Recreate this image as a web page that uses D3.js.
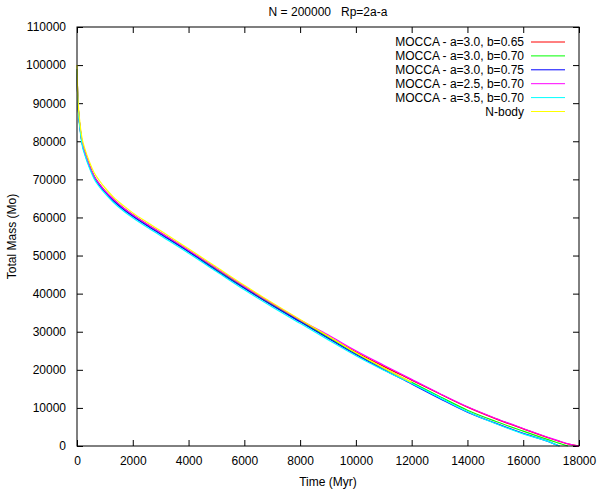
<!DOCTYPE html>
<html>
<head>
<meta charset="utf-8">
<script src="https://cdn.jsdelivr.net/npm/d3@7.9.0/dist/d3.min.js"></script>
<style>
  body { margin: 0; background: #fff; }
  svg { font-family: "Liberation Sans", Arial, sans-serif; }
</style>
</head>
<body>
<svg id="chart"></svg>
<script>
// time (Myr) shared by all series
const time = [0, 20, 50, 100, 170, 300, 450, 610, 800, 1000, 1300, 1700, 2000, 2500, 3000,
  4000, 5000, 6000, 7000, 8000, 9000, 10000, 11000, 12000, 13000, 14000, 15000, 16000,
  17000, 17300, 17600, 18000];

const moccaA30B065 = [99000, 93200, 88300, 84300, 80300, 76700, 73600, 70900, 68800, 67000, 64800, 62300, 60700, 58300, 56000,
  51300, 46500, 41800, 37300, 33000, 28800, 24700, 20900, 17300, 13700, 10200, 7200, 4500, 1900, 1200, 550, 0];
const moccaA30B070 = [99000, 93100, 88200, 84200, 80200, 76600, 73500, 70800, 68700, 66900, 64600, 62100, 60500, 58100, 55800,
  51100, 46300, 41500, 37000, 32700, 28500, 24300, 20400, 16700, 13000, 9400, 6500, 3900, 1400, 700, 0, null];
const moccaA30B075 = [99000, 93000, 88000, 84000, 80000, 76400, 73300, 70600, 68500, 66700, 64400, 61900, 60300, 57900, 55600,
  51000, 46100, 41400, 36900, 32600, 28300, 24000, 20000, 16300, 12500, 8900, 6000, 3300, 900, 0, null, null];
const moccaA25B070 = [99000, 93200, 88300, 84300, 80300, 76700, 73600, 70900, 68800, 67000, 64800, 62300, 60700, 58300, 56000,
  51400, 46600, 41900, 37400, 33100, 29200, 25000, 21200, 17500, 13800, 10300, 7300, 4600, 2000, 1300, 600, 0];
const moccaA35B070 = [99000, 92700, 87600, 83600, 79600, 76000, 72900, 70200, 68100, 66300, 64000, 61500, 59900, 57500, 55200,
  50600, 45800, 41000, 36500, 32200, 27900, 23700, 19900, 16400, 12700, 9000, 5900, 3200, 900, 0, null, null];
const nbody = [100000, 94000, 89200, 85200, 81200, 77600, 74500, 71800, 69700, 67800, 65400, 62900, 61200, 58800, 56500,
  51800, 47000, 42200, 37600, 33200, 28900, 24500, 20500, 16700, null, null, null, null, null, null, null, null];

const seriesNames = ['MOCCA - a=3.0, b=0.65', 'MOCCA - a=3.0, b=0.70', 'MOCCA - a=3.0, b=0.75',
  'MOCCA - a=2.5, b=0.70', 'MOCCA - a=3.5, b=0.70', 'N-body'];
const seriesValues = [moccaA30B065, moccaA30B070, moccaA30B075, moccaA25B070, moccaA35B070, nbody];
const seriesColors = ['#ff0000', '#00ff00', '#0000ff', '#ff00ff', '#00ffff', '#ffff00'];

const xTicks = d3.range(0, 18001, 2000);
const yTicks = d3.range(0, 110001, 10000);

const width = 599;
const height = 491;
const margin = { top: 27, right: 20, bottom: 45, left: 77 };

const svg = d3.select('#chart').attr('width', width).attr('height', height);

const xScale = d3.scaleLinear()
    .domain([0, 18000])
    .range([margin.left, width - margin.right]);
const yScale = d3.scaleLinear()
    .domain([0, 110000])
    .range([height - margin.bottom, margin.top]);

const tickLen = 6;

// frame + inward ticks on all four sides (gnuplot style)
svg.append('g')
    .attr('transform', `translate(0, ${height - margin.bottom})`)
    .call(d3.axisBottom(xScale).tickValues(xTicks).tickSizeInner(-tickLen).tickSizeOuter(0).tickPadding(10).tickFormat(d3.format('d')))
    .call(g => g.select('.domain').remove())
    .call(g => g.selectAll('text').attr('font-size', 12).attr('fill', '#000'));

svg.append('g')
    .attr('transform', `translate(0, ${margin.top})`)
    .call(d3.axisTop(xScale).tickValues(xTicks).tickSizeInner(-tickLen).tickSizeOuter(0).tickFormat(''))
    .call(g => g.select('.domain').remove());

svg.append('g')
    .attr('transform', `translate(${margin.left}, 0)`)
    .call(d3.axisLeft(yScale).tickValues(yTicks).tickSizeInner(-tickLen).tickSizeOuter(0).tickPadding(11).tickFormat(d3.format('d')))
    .call(g => g.select('.domain').remove())
    .call(g => g.selectAll('text').attr('font-size', 12).attr('fill', '#000'));

svg.append('g')
    .attr('transform', `translate(${width - margin.right}, 0)`)
    .call(d3.axisRight(yScale).tickValues(yTicks).tickSizeInner(-tickLen).tickSizeOuter(0).tickFormat(''))
    .call(g => g.select('.domain').remove());

svg.selectAll('.tick line').attr('stroke', '#000');

// lines
const line = d3.line()
    .defined(d => d[1] !== null)
    .curve(d3.curveMonotoneX)
    .x(d => xScale(d[0]))
    .y(d => yScale(d[1]));

seriesValues.forEach((vals, i) => {
    svg.append('path')
        .datum(time.map((t, j) => [t, vals[j]]))
        .attr('fill', 'none')
        .attr('stroke', seriesColors[i])
        .attr('stroke-width', 1.2)
        .attr('d', line);
});

svg.append('rect')
    .attr('x', margin.left)
    .attr('y', margin.top)
    .attr('width', width - margin.left - margin.right)
    .attr('height', height - margin.top - margin.bottom)
    .attr('fill', 'none')
    .attr('stroke', '#000')
    .attr('stroke-width', 1);

// legend
const legend = svg.append('g');
seriesNames.forEach((name, i) => {
    const y = 42 + i * 13.9;
    legend.append('text')
        .attr('x', 524)
        .attr('y', y)
        .attr('dy', '0.35em')
        .attr('text-anchor', 'end')
        .attr('font-size', 12)
        .text(name);
    legend.append('line')
        .attr('x1', 531).attr('x2', 565)
        .attr('y1', y).attr('y2', y)
        .attr('stroke', seriesColors[i])
        .attr('stroke-width', 1);
});

// titles
svg.append('text')
    .attr('x', (margin.left + width - margin.right) / 2)
    .attr('y', 16)
    .attr('text-anchor', 'middle')
    .attr('font-size', 12)
    .style('white-space', 'pre')
    .text('N = 200000   Rp=2a-a');

svg.append('text')
    .attr('x', (margin.left + width - margin.right) / 2)
    .attr('y', 486)
    .attr('text-anchor', 'middle')
    .attr('font-size', 12)
    .text('Time (Myr)');

svg.append('text')
    .attr('transform', `translate(16, ${(margin.top + height - margin.bottom) / 2}) rotate(-90)`)
    .attr('text-anchor', 'middle')
    .attr('font-size', 12)
    .text('Total Mass (Mo)');
</script>
</body>
</html>
